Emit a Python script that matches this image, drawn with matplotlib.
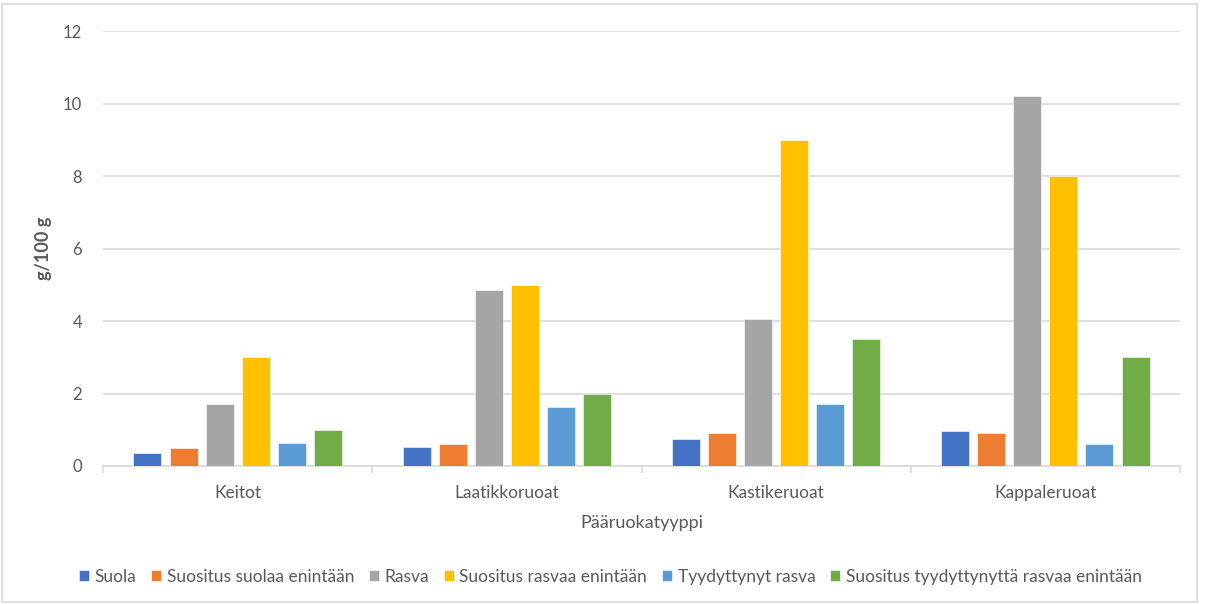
import numpy as np
import matplotlib.pyplot as plt
from matplotlib.patches import Rectangle

plt.rcParams["font.family"] = ["Lato", "DejaVu Sans"]

categories = ["Keitot", "Laatikkoruoat", "Kastikeruoat", "Kappaleruoat"]
series_names = [
    "Suola",
    "Suositus suolaa enintään",
    "Rasva",
    "Suositus rasvaa enintään",
    "Tyydyttynyt rasva",
    "Suositus tyydyttynyttä rasvaa enintään",
]
suola = [0.36, 0.52, 0.74, 0.96]
suositus_suola = [0.5, 0.6, 0.9, 0.9]
rasva = [1.7, 4.85, 4.05, 10.2]
suositus_rasva = [3.0, 5.0, 9.0, 8.0]
tyydyttynyt = [0.63, 1.62, 1.7, 0.6]
suositus_tyydyttynyt = [1.0, 2.0, 3.5, 3.0]

colors = ["#4472C4", "#ED7D31", "#A5A5A5", "#FFC000", "#5B9BD5", "#70AD47"]
text_color = "#595959"

series = [suola, suositus_suola, rasva, suositus_rasva, tyydyttynyt, suositus_tyydyttynyt]

fig = plt.figure(figsize=(12.06, 6.04), dpi=100)
ax = fig.add_axes([103 / 1206, 1 - 466 / 604, (1180 - 103) / 1206, (466 - 31) / 604])

x = np.arange(len(categories))
step = 0.134
width = 0.104
for i, (vals, name, col) in enumerate(zip(series, series_names, colors)):
    offset = (i - 2.5) * step
    ax.bar(x + offset, vals, width, color=col, label=name,
           edgecolor="white", linewidth=0.4, zorder=3)

ax.set_xlim(-0.5, len(categories) - 0.5)
ax.set_ylim(0, 12)
ax.set_yticks(np.arange(0, 13, 2))
ax.yaxis.grid(True, color="#D9D9D9", linewidth=1.2, zorder=0)
ax.tick_params(axis="y", length=0, colors=text_color, labelsize=12, pad=15)

# category separators as tick marks on the x axis
ax.set_xticks(np.arange(-0.5, len(categories), 1.0))
ax.set_xticklabels([])
ax.set_xticks(x, minor=True)
ax.set_xticklabels(categories, minor=True)
ax.tick_params(axis="x", which="major", length=5, color="#D9D9D9", width=1.2)
ax.tick_params(axis="x", which="minor", length=0, colors=text_color, labelsize=12.5, pad=14)

for side in ["top", "right", "left"]:
    ax.spines[side].set_visible(False)
ax.spines["bottom"].set_color("#D9D9D9")
ax.spines["bottom"].set_linewidth(1.2)

ax.set_ylabel("g/100 g", color=text_color, fontsize=13, fontweight="bold", labelpad=8)
ax.set_xlabel("Pääruokatyyppi", color=text_color, fontsize=13, labelpad=10)

fig.legend(loc="center", bbox_to_anchor=(0.506, 1 - 577 / 604), ncol=6, frameon=False,
           fontsize=12.5, handlelength=0.6, handleheight=0.6, handletextpad=0.3,
           columnspacing=0.85, labelcolor=text_color)

fig.patches.append(Rectangle((2 / 1206, 2 / 604), 1195 / 1206, 598 / 604,
                             transform=fig.transFigure, fill=False,
                             edgecolor="#D9D9D9", linewidth=1.2))

fig.savefig("out.png", dpi=100)
